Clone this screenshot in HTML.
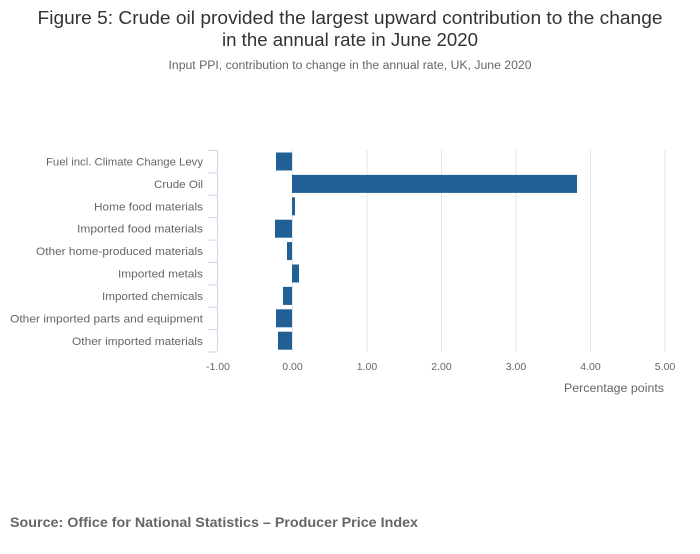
<!DOCTYPE html><html><head><style>body{margin:0;background:#fff;}svg text{font-family:"Liberation Sans",sans-serif;}</style></head><body>
<svg width="700" height="549" xmlns="http://www.w3.org/2000/svg">
<text x="350" y="24" text-anchor="middle" font-size="18" fill="#333" textLength="625" lengthAdjust="spacingAndGlyphs">Figure 5: Crude oil provided the largest upward contribution to the change</text>
<text x="350" y="46" text-anchor="middle" font-size="18" fill="#333" textLength="256" lengthAdjust="spacingAndGlyphs">in the annual rate in June 2020</text>
<text x="350" y="69" text-anchor="middle" font-size="11.5" fill="#666" textLength="363" lengthAdjust="spacingAndGlyphs">Input PPI, contribution to change in the annual rate, UK, June 2020</text>
<g stroke="#e6e6e6" stroke-width="1">
<line x1="367" y1="150" x2="367" y2="352"/><line x1="441.5" y1="150" x2="441.5" y2="352"/><line x1="516" y1="150" x2="516" y2="352"/><line x1="590.5" y1="150" x2="590.5" y2="352"/><line x1="665" y1="150" x2="665" y2="352"/>
<line x1="292.5" y1="150" x2="292.5" y2="352"/>
</g>
<g stroke="#ccd6eb" stroke-width="1">
<line x1="217.5" y1="150" x2="217.5" y2="352"/>
<line x1="208" y1="150.5" x2="217" y2="150.5"/><line x1="208" y1="172.9" x2="217" y2="172.9"/><line x1="208" y1="195.3" x2="217" y2="195.3"/><line x1="208" y1="217.7" x2="217" y2="217.7"/><line x1="208" y1="240.1" x2="217" y2="240.1"/><line x1="208" y1="262.5" x2="217" y2="262.5"/><line x1="208" y1="284.9" x2="217" y2="284.9"/><line x1="208" y1="307.3" x2="217" y2="307.3"/><line x1="208" y1="329.7" x2="217" y2="329.7"/><line x1="208" y1="352" x2="217" y2="352"/>
</g>
<g fill="#206095">
<rect x="276" y="152.5" width="16" height="18"/>
<rect x="292" y="174.9" width="285" height="18"/>
<rect x="292" y="197.3" width="3" height="18"/>
<rect x="275" y="219.7" width="17" height="18"/>
<rect x="287" y="242.1" width="5" height="18"/>
<rect x="292" y="264.5" width="7" height="18"/>
<rect x="283" y="286.9" width="9" height="18"/>
<rect x="276" y="309.3" width="16" height="18"/>
<rect x="278" y="331.7" width="14" height="18"/>
</g>
<g font-size="11" fill="#666" text-anchor="end" lengthAdjust="spacingAndGlyphs">
<text x="203" y="165.5" textLength="157" lengthAdjust="spacingAndGlyphs">Fuel incl. Climate Change Levy</text>
<text x="203" y="188" textLength="49" lengthAdjust="spacingAndGlyphs">Crude Oil</text>
<text x="203" y="210.5" textLength="109" lengthAdjust="spacingAndGlyphs">Home food materials</text>
<text x="203" y="232.5" textLength="126" lengthAdjust="spacingAndGlyphs">Imported food materials</text>
<text x="203" y="255" textLength="167" lengthAdjust="spacingAndGlyphs">Other home-produced materials</text>
<text x="203" y="277.5" textLength="85" lengthAdjust="spacingAndGlyphs">Imported metals</text>
<text x="203" y="300" textLength="101" lengthAdjust="spacingAndGlyphs">Imported chemicals</text>
<text x="203" y="322.5" textLength="193" lengthAdjust="spacingAndGlyphs">Other imported parts and equipment</text>
<text x="203" y="345" textLength="131" lengthAdjust="spacingAndGlyphs">Other imported materials</text>
</g>
<g font-size="10.5" fill="#666" text-anchor="middle">
<text x="218" y="370">-1.00</text><text x="292.5" y="370">0.00</text><text x="367" y="370">1.00</text><text x="441.5" y="370">2.00</text><text x="516" y="370">3.00</text><text x="590.5" y="370">4.00</text><text x="665" y="370">5.00</text>
</g>
<text x="664" y="392" text-anchor="end" font-size="11.5" fill="#666" textLength="100" lengthAdjust="spacingAndGlyphs">Percentage points</text>
<text x="10" y="527" font-size="14" font-weight="bold" fill="#666" textLength="408" lengthAdjust="spacingAndGlyphs">Source: Office for National Statistics – Producer Price Index</text>
</svg>
</body></html>
